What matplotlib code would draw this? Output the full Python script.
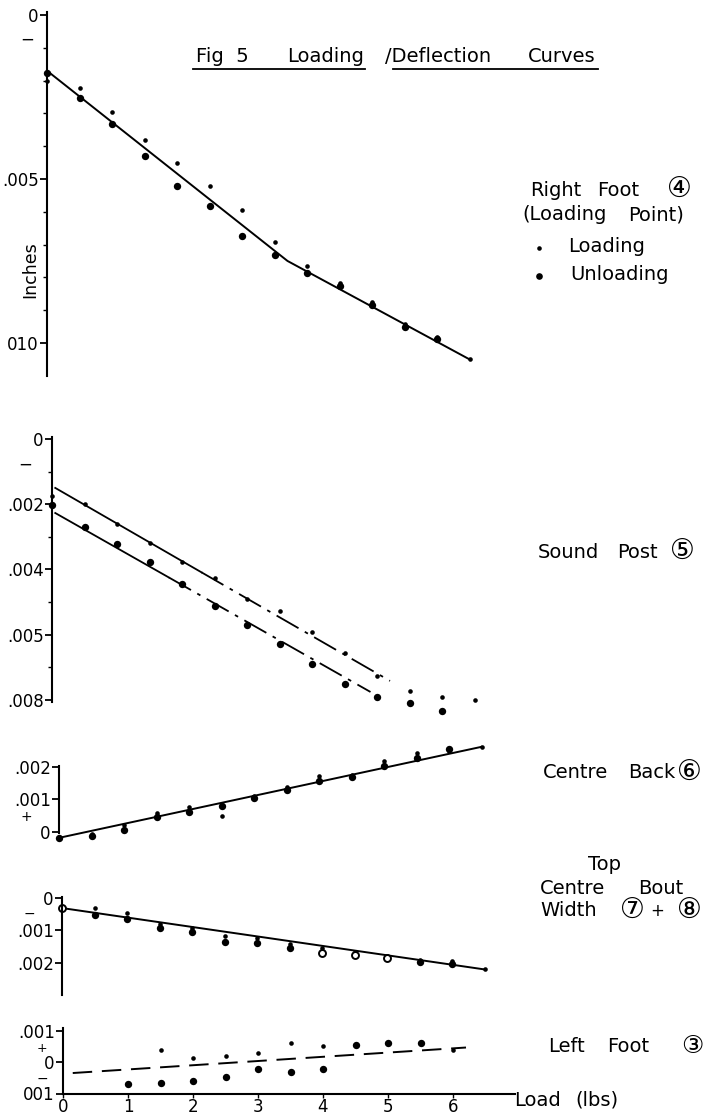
import matplotlib
matplotlib.use("Agg")
import matplotlib.pyplot as plt
from matplotlib.lines import Line2D

plt.rcParams['font.family'] = ['DejaVu Sans', 'Noto Sans CJK JP']

W, H = 705, 1115

# load steps (lbs)
steps = [0, 0.5, 1, 1.5, 2, 2.5, 3, 3.5, 4, 4.5, 5, 5.5, 6, 6.5]

# ---------- Right Foot (4), inches (down = deflection) ----------
rf_load = [0.0020, 0.00223, 0.00296, 0.00381, 0.00451, 0.00521, 0.00595,
           0.00692, 0.00765, 0.00817, 0.00875, 0.00942, 0.00982, 0.01049]
rf_unload = [0.00177, 0.00253, 0.00332, 0.0043, 0.00521, 0.00582, 0.00674,
             0.00732, 0.00787, 0.00826, 0.00884, 0.00951, 0.00988]
rf_fit_x = [0, 3.7, 6.5]
rf_fit_y = [0.0017, 0.0075, 0.0105]

# ---------- Sound Post (5) ----------
sp_load = [0.00175, 0.00199, 0.00261, 0.00319, 0.00377, 0.00426, 0.00491,
           0.00528, 0.00592, 0.00656, 0.00727, 0.00773, 0.00791, 0.00801]
sp_unload = [0.00202, 0.0027, 0.00322, 0.00377, 0.00445, 0.00512, 0.00571,
             0.00629, 0.0069, 0.00752, 0.00791, 0.0081, 0.00834]
sp_up_x = [0.05, 2.3, 5.2]
sp_up_y = [0.0015, 0.00409, 0.00742]
sp_lo_x = [0.05, 1.8, 4.9]
sp_lo_y = [0.00227, 0.00425, 0.00776]

# ---------- Centre Back (6) (up = positive) ----------
cb_load = [-0.00015, -0.00005, 0.0002, 0.00058, 0.00077, 0.00049, 0.0011,
           0.00138, 0.00172, 0.00175, 0.00218, 0.00243, 0.0025, 0.00262]
cb_unload = [-0.00018, -0.00012, 0.00006, 0.00046, 0.00062, 0.0008, 0.00105,
             0.00129, 0.00157, 0.00169, 0.00203, 0.00228, 0.00255]
cb_fit_x = [0, 6.5]
cb_fit_y = [-0.00018, 0.00262]

# ---------- Top Centre Bout Width (7)+(8) ----------
tb_load = [0.00031, 0.00031, 0.00046, 0.0008, 0.00092, 0.00117, 0.00123,
           0.00142, 0.00154, 0.00166, 0.00178, 0.0019, 0.00195, 0.0022]
tb_unload_x = [0.5, 1, 1.5, 2, 2.5, 3, 3.5, 5.5, 6]
tb_unload = [0.00052, 0.00065, 0.00092, 0.00105, 0.00135, 0.00138, 0.00154,
             0.00197, 0.00203]
tb_open_x = [0, 4, 4.5, 5]
tb_open = [0.00031, 0.0017, 0.00177, 0.00186]
tb_fit_x = [0, 6.5]
tb_fit_y = [0.00031, 0.0022]

# ---------- Left Foot (3) (up = positive) ----------
lf_load_x = [1.5, 2, 2.5, 3, 3.5, 4, 6]
lf_load = [0.00038, 0.00013, 0.00019, 0.00029, 0.0006, 0.00051, 0.00038]
lf_unload_x = [1, 1.5, 2, 2.5, 3, 3.5, 4, 4.5, 5, 5.5]
lf_unload = [-0.0007, -0.00067, -0.0006, -0.00048, -0.00022, -0.00032,
             -0.00022, 0.00054, 0.0006, 0.0006]
lf_fit_x = [0.15, 6.2]
lf_fit_y = [-0.00035, 0.00046]

x_ticks = [0, 1, 2, 3, 4, 5, 6]

fig = plt.figure(figsize=(W / 100, H / 100), dpi=100)
fig.patch.set_facecolor('white')


def fx(px):
    return px / W


def fy(py):
    return 1 - py / H


# one axes per curve, placed in pixel terms (65 px per lb)
def make_axes(x0, ytop, ybot, vtop, vbot):
    ax = fig.add_axes([fx(x0), fy(ybot), 7.2 * 65 / W, (ybot - ytop) / H])
    ax.set_xlim(0, 7.2)
    ax.set_ylim(vbot, vtop)
    ax.patch.set_alpha(0)
    for s in ['top', 'right', 'bottom']:
        ax.spines[s].set_visible(False)
    ax.spines['left'].set_linewidth(1.5)
    ax.set_xticks([])
    ax.tick_params(axis='y', direction='out', length=5, width=1.3,
                   labelsize=12, pad=1)
    ax.tick_params(axis='y', which='minor', length=3, width=1)
    return ax


def pts(ax, x, y, size):
    ax.plot(x, y, 'o', color='black', ms=size, mew=0, clip_on=False)


small, big = 3.3, 5.3

# Right Foot
ax1 = make_axes(47, 8, 380, -0.000213, 0.01113)
ax1.spines['left'].set_bounds(-0.0001, 0.011)
ax1.set_yticks([0, 0.005, 0.010], ['0', '.005', '010'])
ax1.set_yticks([0.001 * i for i in range(1, 11)], minor=True)
ax1.plot(rf_fit_x, rf_fit_y, color='black', lw=1.4)
pts(ax1, steps, rf_load, small)
pts(ax1, steps[:13], rf_unload, big)
ax1.text(-0.2, 0.00076, '−', ha='right', va='center', fontsize=12)

# Sound Post
ax2 = make_axes(52, 432, 720, -0.000215, 0.00862)
ax2.spines['left'].set_bounds(-0.00005, 0.00808)
ax2.set_yticks([0, 0.002, 0.004, 0.006, 0.008],
               ['0', '.002', '.004', '.005', '.008'])
ax2.set_yticks([0.001, 0.003, 0.005, 0.007], minor=True)
ax2.plot(sp_up_x[:2], sp_up_y[:2], color='black', lw=1.3)
ax2.plot(sp_up_x[1:], sp_up_y[1:], color='black', lw=1.3,
         linestyle=(0, (14, 4, 2, 4)))
ax2.plot(sp_lo_x[:2], sp_lo_y[:2], color='black', lw=1.3)
ax2.plot(sp_lo_x[1:], sp_lo_y[1:], color='black', lw=1.3,
         linestyle=(0, (14, 4, 2, 4)))
pts(ax2, steps, sp_load, small)
pts(ax2, steps[:13], sp_unload, big)
ax2.text(-0.3, 0.0008, '−', ha='right', va='center', fontsize=12)

# Centre Back
ax3 = make_axes(59, 740, 845, 0.00283, -0.0004)
ax3.spines['left'].set_bounds(-0.00003, 0.00203)
ax3.set_yticks([0, 0.001, 0.002], ['0', '.001', '.002'])
ax3.plot(cb_fit_x, cb_fit_y, color='black', lw=1.4)
pts(ax3, steps, cb_load, small)
pts(ax3, steps[:13], cb_unload, big)
ax3.text(-0.5, 0.00046, '+', ha='center', va='center', fontsize=10)

# Top Centre Bout Width
ax4 = make_axes(62, 890, 998, -0.000246, 0.00308)
ax4.spines['left'].set_bounds(-0.00003, 0.003)
ax4.set_yticks([0, 0.001, 0.002], ['0', '.001', '.002'])
ax4.plot(tb_fit_x, tb_fit_y, color='black', lw=1.4)
pts(ax4, steps, tb_load, small)
pts(ax4, tb_unload_x, tb_unload, big)
ax4.plot(tb_open_x, tb_open, 'o', ms=5, mfc='white', mec='black', mew=1.4,
         clip_on=False)
ax4.text(-0.5, 0.00048, '−', ha='center', va='center', fontsize=10)

# Left Foot
ax5 = make_axes(63, 1025, 1093.5, 0.001175, -0.001)
ax5.spines['left'].set_bounds(-0.001, 0.00108)
ax5.spines['bottom'].set_visible(True)
ax5.spines['bottom'].set_linewidth(1.5)
ax5.spines['bottom'].set_bounds(0, 6.95)
ax5.set_yticks([-0.001, 0, 0.001], ['001', '0', '.001'])
ax5.set_xticks(x_ticks, [str(t) for t in x_ticks])
ax5.tick_params(axis='x', direction='out', length=3, width=1,
                labelsize=12, pad=0)
ax5.plot(lf_fit_x, lf_fit_y, color='black', lw=1.4,
         linestyle=(0, (10, 5)))
pts(ax5, lf_load_x, lf_load, small)
pts(ax5, lf_unload_x, lf_unload, big)
ax5.text(-0.32, 0.00042, '+', ha='center', va='center', fontsize=9)
ax5.text(-0.32, -0.00052, '−', ha='center', va='center', fontsize=10)

fig.text(fx(30), fy(270), 'Inches', rotation=90, ha='center', va='center',
         fontsize=12.5)

# title with hand-drawn style underlines
tt = dict(ha='left', va='center', fontsize=14)
fig.text(fx(196), fy(56), 'Fig  5', **tt)
fig.text(fx(287), fy(56), 'Loading', **tt)
fig.text(fx(385), fy(56), '/Deflection', **tt)
fig.text(fx(528), fy(56), 'Curves', **tt)
fig.add_artist(Line2D([fx(193), fx(365)], [fy(69), fy(69)],
                      color='black', lw=1.3))
fig.add_artist(Line2D([fx(393), fx(598)], [fy(69), fy(69)],
                      color='black', lw=1.3))

# curve labels on the right
lab = dict(ha='left', va='center', fontsize=14)
circ = dict(ha='center', va='center', fontsize=20)
fig.text(fx(530), fy(190), 'Right', **lab)
fig.text(fx(597), fy(190), 'Foot', **lab)
fig.text(fx(679), fy(189), '\u2463', **circ)
fig.text(fx(522), fy(215), '(Loading', **lab)
fig.text(fx(628), fy(215), 'Point)', **lab)
fig.text(fx(568), fy(247), 'Loading', **lab)
fig.text(fx(570), fy(275), 'Unloading', **lab)
fig.add_artist(Line2D([fx(539)], [fy(248)], marker='o', ms=small, mew=0,
                      color='black', linestyle='none'))
fig.add_artist(Line2D([fx(539)], [fy(276)], marker='o', ms=big - 0.5, mew=0,
                      color='black', linestyle='none'))
fig.text(fx(538), fy(552), 'Sound', **lab)
fig.text(fx(617), fy(552), 'Post', **lab)
fig.text(fx(682), fy(551), '\u2464', **circ)
fig.text(fx(543), fy(773), 'Centre', **lab)
fig.text(fx(628), fy(773), 'Back', **lab)
fig.text(fx(689), fy(772), '\u2465', **circ)
fig.text(fx(604), fy(864), 'Top', ha='center', va='center', fontsize=14)
fig.text(fx(540), fy(889), 'Centre', **lab)
fig.text(fx(638), fy(889), 'Bout', **lab)
fig.text(fx(540), fy(911), 'Width', **lab)
fig.text(fx(632), fy(910), '\u2466', **circ)
fig.text(fx(657), fy(911), '+', ha='center', va='center', fontsize=12)
fig.text(fx(689), fy(910), '\u2467', **circ)
fig.text(fx(548), fy(1047), 'Left', **lab)
fig.text(fx(607), fy(1047), 'Foot', **lab)
fig.text(fx(692), fy(1046), '\u2462', ha='center', va='center', fontsize=18)
fig.text(fx(514), fy(1100), 'Load', **lab)
fig.text(fx(575), fy(1100), '(lbs)', **lab)

fig.savefig('out.png', dpi=100, facecolor='white')
